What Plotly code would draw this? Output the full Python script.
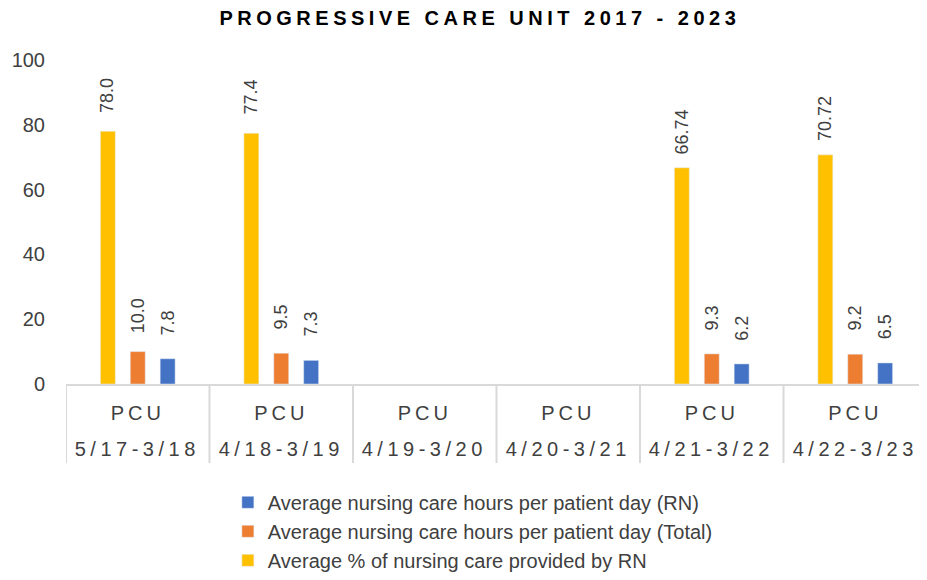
import plotly.graph_objects as go

periods = ["5/17-3/18", "4/18-3/19", "4/19-3/20", "4/20-3/21", "4/21-3/22", "4/22-3/23"]
unit = ["PCU"] * 6

pct_rn = [78.0, 77.4, None, None, 66.74, 70.72]
pct_rn_text = ["78.0", "77.4", "", "", "66.74", "70.72"]
hours_total = [10.0, 9.5, None, None, 9.3, 9.2]
hours_total_text = ["10.0", "9.5", "", "", "9.3", "9.2"]
hours_rn = [7.8, 7.3, None, None, 6.2, 6.5]
hours_rn_text = ["7.8", "7.3", "", "", "6.2", "6.5"]

series = [
    ("Average % of nursing care provided by RN", pct_rn, pct_rn_text, "#FFC000"),
    ("Average nursing care hours per patient day (Total)", hours_total, hours_total_text, "#ED7D31"),
    ("Average nursing care hours per patient day (RN)", hours_rn, hours_rn_text, "#4472C4"),
]

FONT = "Liberation Sans"
TXT = "#404040"
GRID = "#D9D9D9"
SLOT_PX = 30  # pixel offset between bars of a group

fig = go.Figure()
for k, (name, vals, txt, color) in enumerate(series):
    fig.add_trace(go.Bar(
        x=periods, y=vals, name=name, marker_color=color,
        legendgroup=name,
    ))
    for p, v, t in zip(periods, vals, txt):
        if v is None:
            continue
        fig.add_annotation(
            x=p, y=v, xref="x", yref="y", text=t, showarrow=False,
            textangle=-90, xanchor="center", yanchor="middle",
            xshift=(k - 1) * SLOT_PX, yshift=36,
            font=dict(family=FONT, size=18, color=TXT),
        )

# period labels (second row of category labels)
for p in periods:
    fig.add_annotation(
        x=p, y=-0.2, xref="x", yref="paper", text=p, showarrow=False,
        xanchor="center", yanchor="middle",
        font=dict(family=FONT, size=20, color=TXT),
    )

# category dividers
for i in range(len(periods)):
    fig.add_shape(type="line", xref="x", yref="paper",
                  x0=i - 0.5, x1=i - 0.5, y0=0, y1=-0.244,
                  line=dict(color=GRID, width=2))

fig.update_layout(
    width=919, height=572,
    margin=dict(l=58, r=0, t=52, b=196),
    paper_bgcolor="white", plot_bgcolor="white",
    title=dict(text="<b>PROGRESSIVE CARE UNIT 2017 - 2023</b>", x=0.5135, xanchor="center",
               y=1 - 10 / 572, yanchor="middle",
               font=dict(family=FONT, size=20, color="#000000")),
    barmode="group", bargap=0.375, bargroupgap=0.5,
    showlegend=True,
    legend=dict(orientation="v", traceorder="reversed", x=0.188, xanchor="left",
                y=-0.305, yanchor="top", font=dict(family=FONT, size=20, color=TXT),
                itemwidth=30, tracegroupgap=21),
)
fig.update_yaxes(range=[0, 100], dtick=20, showgrid=False, zeroline=False, showline=False,
                 ticks="", ticklabelstandoff=20,
                 tickfont=dict(family=FONT, size=20, color=TXT))
fig.update_xaxes(type="category", showline=True, linecolor=GRID, linewidth=2,
                 tickvals=periods, ticktext=unit, range=[-0.5, len(periods) - 0.5],
                 ticks="", ticklabelstandoff=10,
                 tickfont=dict(family=FONT, size=20, color=TXT))

post = """
var gd = document.getElementById('{plot_id}');
gd.querySelectorAll('.gtitle').forEach(function(e){ e.style.letterSpacing = '4.5px'; });
gd.querySelectorAll('.xtick text').forEach(function(e){ e.style.letterSpacing = '4px'; });
gd.querySelectorAll('.annotation-text').forEach(function(e){
  if (e.textContent.indexOf('/') >= 0) { e.style.letterSpacing = '4.5px'; }
});
"""

fig.write_html("out.html", post_script=post)
